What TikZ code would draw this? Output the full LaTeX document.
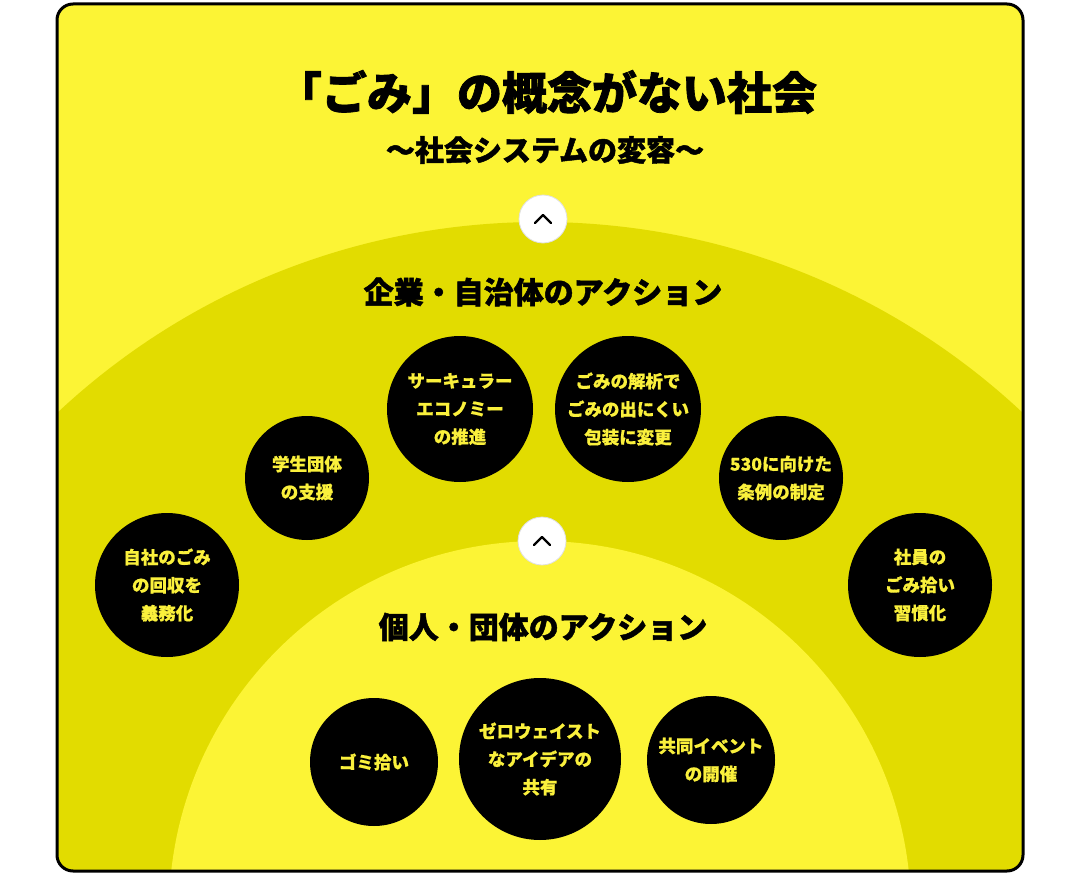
\documentclass[tikz,border=0pt]{standalone}
\usepackage{fontspec}
\newfontfamily\jp{Noto Sans CJK JP}[BoldFeatures={FakeBold=0.6}]
\newfontfamily\jpH{Noto Sans CJK JP}[BoldFeatures={FakeBold=1.6}]
\definecolor{lightY}{RGB}{252,244,53}
\definecolor{midY}{RGB}{226,220,0}
\definecolor{txtY}{RGB}{250,240,60}
\tikzset{
  blob/.style={circle, fill=black, text=txtY, align=center, inner sep=0pt, font=\jp\bfseries\fontsize{17.5}{28}\selectfont},
  heading/.style={text=black, font=\jpH\bfseries\fontsize{30}{34}\selectfont},
  chev/.style={circle, fill=white, draw=black!12, line width=0.8pt, minimum size=48pt, inner sep=0pt},
}
\begin{document}
\begin{tikzpicture}[x=1pt,y=-1pt]
\useasboundingbox (0,0) rectangle (1080,875);
\begin{scope}
  \clip[rounded corners=16pt] (57,4) rectangle (1023,871);
  \fill[lightY] (0,0) rectangle (1080,875);
  \fill[midY] (540,928) circle[radius=706];
  \fill[lightY] (540,912) circle[radius=371];
\end{scope}
\draw[line width=3pt, rounded corners=16pt] (57,4) rectangle (1023,871);

\node[font=\jpH\bfseries\fontsize{45}{50}\selectfont] (title) at (547,92) {「ごみ」の概念がない社会};
\node[font=\jpH\bfseries\fontsize{29}{34}\selectfont] (sub) at (545,150) {〜社会システムの変容〜};

\node[chev] (c1) at (543,219) {};
\draw[line width=2.4pt, line cap=round, line join=round] ([xshift=-8pt,yshift=-4pt]c1.center) -- ([yshift=4pt]c1.center) -- ([xshift=8pt,yshift=-4pt]c1.center);
\node[chev] (c2) at (542,541) {};
\draw[line width=2.4pt, line cap=round, line join=round] ([xshift=-8pt,yshift=-4pt]c2.center) -- ([yshift=4pt]c2.center) -- ([xshift=8pt,yshift=-4pt]c2.center);

\node[heading] (h1) at (543,292) {企業・自治体のアクション};
\node[heading] (h2) at (543,627) {個人・団体のアクション};

\node[blob, minimum size=144pt] (b1) at (167,585) {自社のごみ\\の回収を\\義務化};
\node[blob, minimum size=124pt] (b2) at (307,478) {学生団体\\の支援};
\node[blob, minimum size=146pt] (b3) at (460,409) {サーキュラー\\エコノミー\\の推進};
\node[blob, minimum size=146pt] (b4) at (628,409) {ごみの解析で\\ごみの出にくい\\包装に変更};
\node[blob, minimum size=124pt] (b5) at (781,478) {530に向けた\\条例の制定};
\node[blob, minimum size=144pt] (b6) at (920,585) {社員の\\ごみ拾い\\習慣化};

\node[blob, minimum size=128pt] (p1) at (374,762) {ゴミ拾い};
\node[blob, minimum size=162pt] (p2) at (540,759) {ゼロウェイスト\\なアイデアの\\共有};
\node[blob, minimum size=128pt] (p3) at (711,760) {共同イベント\\の開催};
\end{tikzpicture}
\end{document}
